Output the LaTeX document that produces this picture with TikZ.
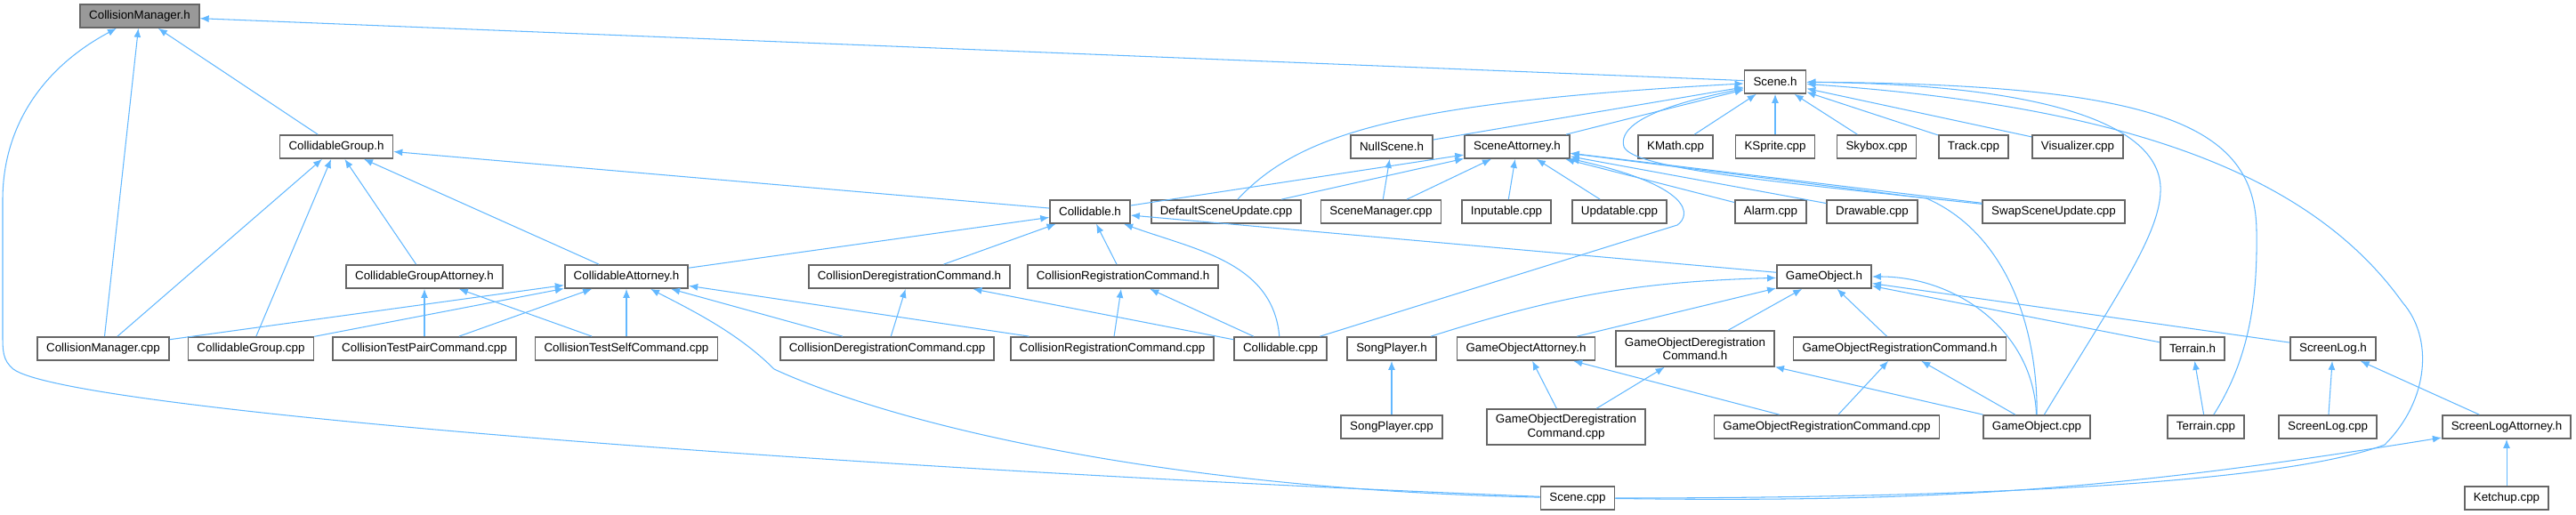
\documentclass[tikz,border=0pt]{standalone}
\usepackage{fontspec}
\setmainfont{Liberation Sans}
\usetikzlibrary{arrows.meta}
\definecolor{doxblue}{HTML}{63B8FF}
\definecolor{doxgray}{HTML}{666666}
\definecolor{doxroot}{HTML}{999999}

\begin{document}
\begin{tikzpicture}[
    box/.style={draw=doxgray, line width=1pt, fill=white, align=center,
                inner xsep=0.2cm, inner ysep=0pt, minimum height=0.52cm,
                font=\fontsize{7.6}{8.8}\selectfont},
    rootbox/.style={box, fill=doxroot},
    twoline/.style={box, minimum height=0.80cm},
    link/.style={-{Latex[length=2mm,width=1.6mm]}, draw=doxblue, line width=0.6pt}
  ]
    \useasboundingbox (0,0) rectangle (57.9,-11.58);

    \node[rootbox] (cmh) at (3.14,-0.36) {CollisionManager.h};
    \node[box] (scn)   at (39.90,-1.84) {Scene.h};

    \node[box] (cgh)   at (7.56, -3.30) {CollidableGroup.h};
    \node[box] (nsh)   at (31.28,-3.30) {NullScene.h};
    \node[box] (sah)   at (34.10,-3.30) {SceneAttorney.h};
    \node[box] (kmath) at (37.66,-3.30) {KMath.cpp};
    \node[box] (kspr)  at (39.90,-3.30) {KSprite.cpp};
    \node[box] (sky)   at (42.18,-3.30) {Skybox.cpp};
    \node[box] (trk)   at (44.36,-3.30) {Track.cpp};
    \node[box] (vis)   at (46.70,-3.30) {Visualizer.cpp};

    \node[box] (clh)   at (24.50,-4.76) {Collidable.h};
    \node[box] (dsu)   at (27.56,-4.76) {DefaultSceneUpdate.cpp};
    \node[box] (smc)   at (31.04,-4.76) {SceneManager.cpp};
    \node[box] (inp)   at (33.86,-4.76) {Inputable.cpp};
    \node[box] (upd)   at (36.40,-4.76) {Updatable.cpp};
    \node[box] (alm)   at (39.80,-4.76) {Alarm.cpp};
    \node[box] (drw)   at (42.08,-4.76) {Drawable.cpp};
    \node[box] (ssu)   at (46.16,-4.76) {SwapSceneUpdate.cpp};

    \node[box] (cgah)  at (9.54, -6.22) {CollidableGroupAttorney.h};
    \node[box] (cah)   at (14.08,-6.22) {CollidableAttorney.h};
    \node[box] (cdch)  at (20.44,-6.22) {CollisionDeregistrationCommand.h};
    \node[box] (crch)  at (25.24,-6.22) {CollisionRegistrationCommand.h};
    \node[box] (goh)   at (41.00,-6.22) {GameObject.h};

    \node[box] (cmc)   at (2.32, -7.84) {CollisionManager.cpp};
    \node[box] (cgc)   at (5.64, -7.84) {CollidableGroup.cpp};
    \node[box] (tpc)   at (9.54, -7.84) {CollisionTestPairCommand.cpp};
    \node[box] (tsc)   at (14.08,-7.84) {CollisionTestSelfCommand.cpp};
    \node[box] (cdcc)  at (19.94,-7.84) {CollisionDeregistrationCommand.cpp};
    \node[box] (crcc)  at (25.00,-7.84) {CollisionRegistrationCommand.cpp};
    \node[box] (clc)   at (28.78,-7.84) {Collidable.cpp};
    \node[box] (sph)   at (31.28,-7.84) {SongPlayer.h};
    \node[box] (goah)  at (34.30,-7.84) {GameObjectAttorney.h};
    \node[twoline] (godh) at (38.10,-7.84) {GameObjectDeregistration\\Command.h};
    \node[box] (gorh)  at (42.70,-7.84) {GameObjectRegistrationCommand.h};
    \node[box] (trh)   at (49.28,-7.84) {Terrain.h};
    \node[box] (slh)   at (52.44,-7.84) {ScreenLog.h};

    \node[box] (spc)   at (31.28,-9.60) {SongPlayer.cpp};
    \node[twoline] (godc) at (35.20,-9.60) {GameObjectDeregistration\\Command.cpp};
    \node[box] (gorc)  at (41.06,-9.60) {GameObjectRegistrationCommand.cpp};
    \node[box] (goc)   at (45.78,-9.60) {GameObject.cpp};
    \node[box] (trc)   at (49.58,-9.60) {Terrain.cpp};
    \node[box] (slc)   at (52.32,-9.60) {ScreenLog.cpp};
    \node[box] (slah)  at (56.34,-9.60) {ScreenLogAttorney.h};

    \node[box] (scc)   at (35.46,-11.20) {Scene.cpp};
    \node[box] (ket)   at (56.34,-11.20) {Ketchup.cpp};

    \foreach \a/\b in {scn/cmh, cgh/cmh, cmc/cmh, clh/cgh, cmc/cgh, cgc/cgh,
                       cgah/cgh, cah/cgh, tpc/cgah, tsc/cgah, cmc/cah, cgc/cah,
                       tpc/cah, tsc/cah, cdcc/cah, crcc/cah, cah/clh, cdch/clh,
                       crch/clh, goh/clh, cdcc/cdch, clc/cdch, crcc/crch, clc/crch,
                       clh/sah, nsh/scn, sah/scn, kmath/scn, kspr/scn, sky/scn,
                       trk/scn, vis/scn, smc/nsh, smc/sah, inp/sah, upd/sah,
                       alm/sah, drw/sah, ssu/sah, dsu/sah, goah/goh, godh/goh,
                       gorh/goh, trh/goh, slh/goh, godc/goah, gorc/goah, godc/godh,
                       goc/godh, gorc/gorh, goc/gorh, spc/sph, trc/trh, slc/slh,
                       slah/slh, ket/slah}
      \draw[link] (\a) -- (\b);

    \draw[link] (dsu) .. controls (29.2,-3.0) and (31.5,-2.3) .. (scn);
    \draw[link] (ssu) .. controls (40,-4.1) and (36.7,-3.8) .. (36.5,-3.3)
                      .. controls (36.3,-2.6) and (38.2,-2.2) .. (scn);
    \draw[link] (goc) .. controls (47.6,-6.6) and (48.6,-5.2) .. (48.56,-4.2)
                      .. controls (48.5,-2.8) and (46,-1.9) .. (scn);
    \draw[link] (trc) .. controls (50.6,-8.0) and (50.74,-6.6) .. (50.72,-5.2)
                      .. controls (50.7,-2.8) and (48.5,-1.9) .. (scn);
    \draw[link] (scc) .. controls (44,-11.2) and (51.2,-10.9) .. (53.6,-10.0)
                      .. controls (54.6,-9.0) and (54.7,-7.6) .. (54,-6.8)
                      .. controls (52,-4.0) and (48,-2.4) .. (scn);
    \draw[link] (scc) .. controls (18,-10.5) and (1.5,-9.2) .. (0.3,-8.3)
                      .. controls (0.06,-8.1) and (0.06,-7.9) .. (0.06,-7.5)
                      -- (0.06,-4.5) .. controls (0.06,-2.8) and (1.0,-1.5) .. (cmh);
    \draw[link] (scc) .. controls (26,-11.0) and (20,-9.5) .. (17.4,-8.3)
                      .. controls (16.6,-7.5) and (15.6,-7) .. (cah);
    \draw[link] (scc) to[bend right=5] (slah);
    \draw[link] (clc) to[out=95,in=-20] (clh);
    \draw[link] (clc) -- (37.7,-5.06) .. controls (38.0,-4.85) and (38.1,-4.2) .. (sah);
    \draw[link] (goc) .. controls (45.8,-7.2) and (45,-5.2) .. (43.3,-4.46) -- (sah);
    \draw[link] (sph) to[bend left=8] (goh);
    \draw[link] (goc) to[out=92,in=0] (goh);
  \end{tikzpicture}
\end{document}
